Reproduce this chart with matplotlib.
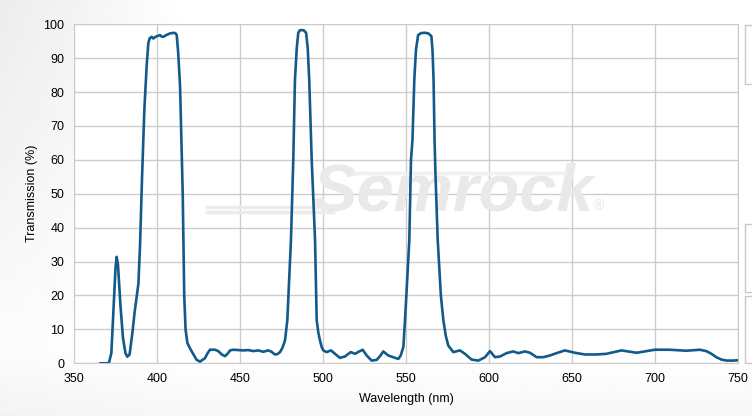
import numpy as np
import matplotlib.pyplot as plt
from matplotlib.patches import Rectangle

# transmission spectrum
wavelength = [365.7, 371.0, 372.5, 374.0, 375.0, 375.7, 376.5, 378.0, 379.5, 381.0, 382.1,
              383.5, 385.3, 386.5, 387.7, 388.8, 389.8, 391.0, 392.4, 393.8, 394.8, 395.6,
              396.8, 397.8, 398.8, 400.0, 401.8, 402.8, 403.8, 405.5, 407.8, 409.0,
              410.2, 411.2, 411.9, 412.8, 413.9, 415.5, 416.4, 417.2, 418.3, 419.9,
              421.5, 423.9, 425.9, 428.9, 430.5, 431.9, 434.9, 436.9, 439.0, 441.0,
              442.8, 444.0, 446.0, 452.0, 455.0, 458.0, 461.0, 464.0, 467.0, 469.0,
              471.0, 472.5, 474.1, 475.5, 477.1, 478.5, 480.7, 482.1, 483.1, 484.2,
              485.1, 486.0, 487.2, 488.5, 489.8, 490.8, 491.7, 492.8, 493.2, 495.2,
              496.2, 497.2, 498.2, 499.2, 500.2, 502.2, 504.8, 507.2, 510.2, 513.2,
              516.7, 519.3, 521.5, 523.9, 526.3, 529.3, 532.3, 534.5, 536.3, 539.3,
              543.4, 545.4, 546.8, 548.4, 549.4, 552.0, 553.0, 553.9, 555.0, 556.0,
              557.3, 559.0, 561.4, 563.5, 565.3, 566.0, 566.6, 567.2, 567.8, 569.1, 571.0,
              572.5, 574.0, 575.5, 578.5, 582.5, 585.5, 589.5, 593.6, 597.6, 600.6,
              603.6, 606.6, 610.6, 614.6, 617.6, 621.7, 624.7, 628.7, 632.7, 636.7,
              640.7, 645.7, 651.8, 657.8, 664.8, 670.8, 679.8, 688.9, 699.9, 708.9,
              718.9, 726.9, 730.9, 734.0, 736.9, 740.0, 743.1, 747.0, 750.0]
transmission = [0.0, 0.0, 3.0, 18.0, 28.0, 31.4, 29.0, 17.0, 7.5, 3.0, 1.95,
                2.6, 9.5, 15.0, 19.5, 23.5, 35.0, 55.0, 75.0, 88.0, 94.5, 95.9,
                96.3, 95.8, 96.2, 96.5, 96.8, 96.4, 96.3, 96.8, 97.3, 97.4,
                97.5, 97.3, 96.8, 91.4, 81.6, 50.0, 20.0, 10.0, 6.0, 4.4,
                3.0, 1.0, 0.5, 1.5, 3.0, 4.0, 4.0, 3.6, 2.6, 2.1,
                3.0, 3.8, 4.0, 3.8, 3.9, 3.6, 3.8, 3.4, 3.8, 3.4,
                2.6, 2.7, 3.3, 4.5, 6.7, 12.7, 36.4, 60.0, 83.6, 93.0,
                97.5, 98.2, 98.3, 98.2, 97.5, 93.0, 83.6, 65.9, 60.0, 36.4,
                12.7, 9.0, 6.7, 4.8, 3.8, 3.3, 3.8, 2.8, 1.6, 2.0,
                3.3, 2.8, 3.4, 4.0, 2.3, 0.8, 1.0, 2.2, 3.5, 2.3,
                1.6, 1.3, 2.3, 4.8, 12.7, 36.4, 60.0, 65.9, 83.6, 92.5,
                96.8, 97.4, 97.5, 97.3, 96.5, 92.0, 83.6, 65.9, 55.0, 36.4, 20.0,
                12.7, 8.0, 5.2, 3.3, 3.8, 2.8, 1.1, 0.8, 1.8, 3.6,
                1.8, 2.0, 3.0, 3.5, 3.0, 3.5, 3.1, 1.8, 1.8, 2.3,
                3.0, 3.8, 3.1, 2.6, 2.6, 2.8, 3.8, 3.1, 4.0, 4.0,
                3.7, 4.0, 3.6, 2.8, 1.8, 1.1, 0.8, 0.8, 0.9]

x_ticks = [350, 400, 450, 500, 550, 600, 650, 700, 750]
y_ticks = [0, 10, 20, 30, 40, 50, 60, 70, 80, 90, 100]

plt.rcParams['font.family'] = ['Liberation Sans', 'DejaVu Sans']

fig = plt.figure(figsize=(7.52, 4.16), dpi=100)

# soft grey page background
bg = fig.add_axes([0, 0, 1, 1], zorder=-10)
gx = np.linspace(0, 1, 300)
gy = np.linspace(0, 1, 200)
GX, GY = np.meshgrid(gx, gy)
shade = 0.075 * np.clip(1 - GX / 0.25, 0, 1) * np.clip(1 - GY / 1.0, 0.2, 1) + 0.03 * np.clip(1 - (1 - GY) / 0.15, 0, 1)
bg.imshow(1 - shade, cmap='gray', vmin=0, vmax=1, extent=[0, 1, 0, 1], aspect='auto', origin='upper')
bg.axis('off')

ax = fig.add_axes([0.0984, 0.1267, 0.8830, 0.8149])
ax.set_facecolor('white')

# watermark
ax.text(0.57, 0.50, 'Semrock', transform=ax.transAxes, fontsize=48, fontweight='bold',
        fontstyle='italic', color='#e9e9e9', ha='center', va='center', zorder=1)
ax.text(0.79, 0.465, '®', transform=ax.transAxes, fontsize=10, color='#e6e6e6',
        ha='center', va='center', zorder=1)
for yy in [0.445, 0.462]:
    ax.plot([0.20, 0.39], [yy, yy], transform=ax.transAxes, color='#ebebeb', lw=2.5, zorder=1)
ax.plot([0.42, 0.74], [0.56, 0.56], transform=ax.transAxes, color='#f1eff5', lw=2.5, zorder=1)

ax.plot(wavelength, transmission, color='#125a8a', lw=1.9, zorder=3,
        solid_joinstyle='round', solid_capstyle='round')

ax.set_xlim(350, 750)
ax.set_ylim(0, 100)
ax.set_xticks(x_ticks)
ax.set_yticks(y_ticks)
ax.grid(True, color='#cccccc', lw=1)
ax.set_axisbelow(True)
for s in ax.spines.values():
    s.set_color('#cccccc')
ax.tick_params(length=0, labelsize=9, colors='#000000', pad=7)
ax.set_xlabel('Wavelength (nm)', fontsize=9, color='#000000', labelpad=6)
ax.set_ylabel('Transmission (%)', fontsize=9, color='#000000', labelpad=4)

# partial panels at the right edge
for y0, y1 in [(25, 84), (224, 292), (296, 363)]:
    fig.patches.append(Rectangle((745 / 752, 1 - y1 / 416), 10 / 752, (y1 - y0) / 416,
                                 transform=fig.transFigure, facecolor='white',
                                 edgecolor='#c8c8c8', lw=1))

fig.savefig('out.png', dpi=100)
